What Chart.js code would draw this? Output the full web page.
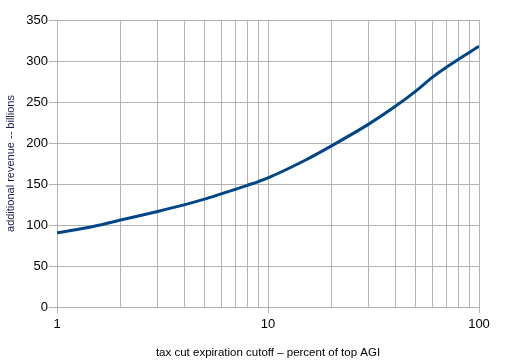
<!DOCTYPE html>
<html>
<head>
<meta charset="utf-8">
<script src="https://cdn.jsdelivr.net/npm/chart.js@4/dist/chart.umd.min.js"></script>
<style>
  html, body { margin: 0; padding: 0; background: #fff; }
  #wrap { width: 512px; height: 362px; }
</style>
</head>
<body>
<div id="wrap"><canvas id="c" width="512" height="362"></canvas></div>
<script>
// Data
const cutoffPercent = [1, 1.5, 2, 3, 4, 5, 6, 7, 8, 9, 10, 15, 20, 30, 40, 50, 60, 70, 80, 90, 100];
const additionalRevenue = [90.5, 98.5, 106, 116.5, 124.5, 131.5, 138, 143.5, 148.5, 153, 157.5, 179, 196.5, 223, 244.5, 263, 280, 292.5, 302, 310.5, 318];
const xGridValues = [1, 2, 3, 4, 5, 6, 7, 8, 9, 10, 20, 30, 40, 50, 60, 70, 80, 90, 100];
const xTickLabels = ['1', '10', '100'];
const yTickValues = [0, 50, 100, 150, 200, 250, 300, 350];
const xTitle = 'tax cut expiration cutoff – percent of top AGI';
const yTitle = 'additional revenue -- billions';

const gridGray = '#b3b3b3';
const fontFamily = '"Liberation Sans", Arial, sans-serif';

new Chart(document.getElementById('c'), {
  type: 'line',
  data: {
    datasets: [{
      data: cutoffPercent.map((x, i) => ({ x: x, y: additionalRevenue[i] })),
      borderColor: '#004586',
      borderWidth: 3,
      pointRadius: 0,
      fill: false,
      cubicInterpolationMode: 'monotone'
    }]
  },
  options: {
    responsive: false,
    animation: false,
    layout: { padding: { top: 20, right: 33, left: 0, bottom: 0 } },
    plugins: { legend: { display: false }, tooltip: { enabled: false } },
    scales: {
      x: {
        type: 'logarithmic',
        min: 1,
        max: 100,
        afterBuildTicks: (s) => { s.ticks = xGridValues.map(v => ({ value: v })); },
        afterFit: (s) => { s.height = 55; },
        ticks: {
          autoSkip: false,
          maxRotation: 0,
          padding: 4,
          color: '#000',
          font: { family: fontFamily, size: 13 },
          callback: (v) => xTickLabels.includes(String(v)) ? String(v) : ''
        },
        grid: {
          color: gridGray,
          lineWidth: 1,
          tickLength: 6,
          tickColor: (ctx) => (ctx.tick && xTickLabels.includes(String(ctx.tick.value))) ? gridGray : 'rgba(0,0,0,0)'
        },
        border: { color: gridGray },
        title: {
          display: true,
          text: xTitle,
          color: '#000',
          font: { family: fontFamily, size: 11.5 },
          padding: { top: 0, bottom: 2 }
        }
      },
      y: {
        min: 0,
        max: 350,
        afterBuildTicks: (s) => { s.ticks = yTickValues.map(v => ({ value: v })); },
        afterFit: (s) => { s.width = 57; },
        ticks: {
          padding: 1,
          color: '#000',
          font: { family: fontFamily, size: 13 }
        },
        grid: { color: gridGray, lineWidth: 1, tickLength: 8 },
        border: { color: gridGray },
        title: {
          display: true,
          text: yTitle,
          color: '#141c50',
          font: { family: fontFamily, size: 11 },
          padding: { top: 4, bottom: 0 }
        }
      }
    }
  }
});
</script>
</body>
</html>
